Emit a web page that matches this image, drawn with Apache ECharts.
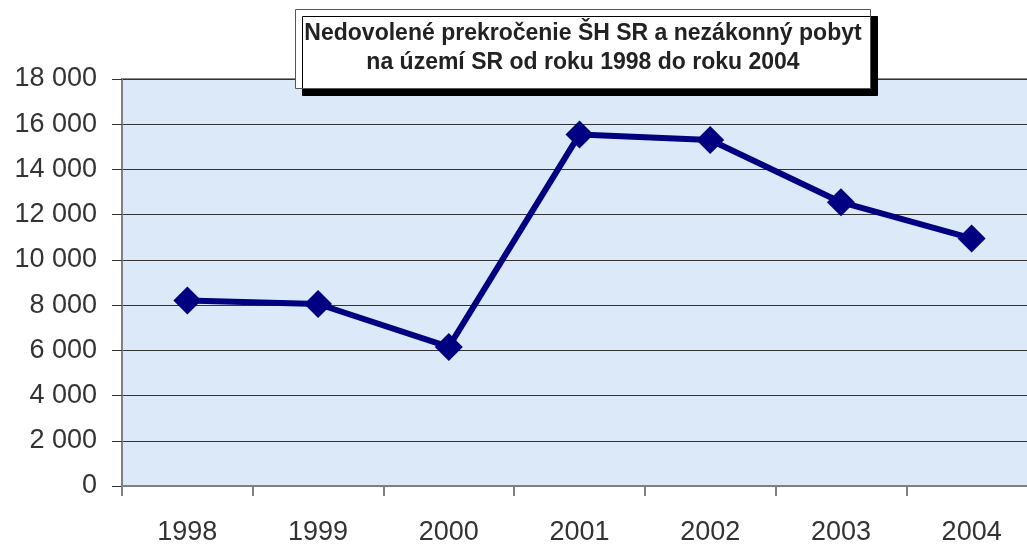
<!DOCTYPE html>
<html>
<head>
<meta charset="utf-8">
<script src="https://cdn.jsdelivr.net/npm/echarts@6/dist/echarts.min.js"></script>
<style>
  html, body { margin: 0; padding: 0; background: #fff; }
  #chart { width: 1027px; height: 544px; }
</style>
</head>
<body>
<div id="chart"></div>
<script>
// roky a pocty
var years = ['1998', '1999', '2000', '2001', '2002', '2003', '2004'];
var counts = [8200, 8050, 6150, 15550, 15300, 12550, 10950];
var yTicks = [0, 2000, 4000, 6000, 8000, 10000, 12000, 14000, 16000, 18000];

function spaced(x) {
    return x.toString().replace(/\B(?=(\d{3})+(?!\d))/g, ' ');
}

var myChart = echarts.init(document.getElementById('chart'));

var option = {
    animation: false,
    title: {
        text: 'Nedovolené prekročenie ŠH SR a nezákonný pobyt\nna území SR od roku 1998 do roku 2004',
        left: 574,
        top: 9,
        textAlign: 'center',
        padding: [10, 9, 12, 9],
        backgroundColor: '#fff',
        borderColor: '#555',
        borderWidth: 1,
        shadowColor: '#000',
        shadowOffsetX: 7,
        shadowOffsetY: 7,
        shadowBlur: 0,
        textStyle: {
            fontFamily: 'Liberation Sans',
            fontWeight: 'bold',
            fontSize: 23,
            lineHeight: 29,
            color: '#222'
        },
        z: 10
    },
    grid: {
        left: 122,
        right: -10,
        top: 79,
        bottom: 58,
        outerBoundsMode: 'none',
        show: true,
        backgroundColor: '#dbe9f8',
        borderColor: '#8a8a8a',
        borderWidth: 2
    },
    xAxis: {
        type: 'category',
        data: years,
        boundaryGap: true,
        axisLine: { lineStyle: { color: '#808080', width: 2 } },
        axisTick: { show: true, length: 10, lineStyle: { color: '#808080', width: 2 } },
        axisLabel: {
            margin: 33,
            fontFamily: 'Liberation Sans',
            fontSize: 27,
            color: '#333'
        }
    },
    yAxis: {
        type: 'value',
        min: 0,
        max: 18000,
        interval: 2000,
        axisLine: { show: true, lineStyle: { color: '#808080', width: 2 } },
        axisTick: { show: true, length: 10, lineStyle: { color: '#333' } },
        splitLine: { lineStyle: { color: '#333', width: 1 } },
        axisLabel: {
            margin: 25,
            fontFamily: 'Liberation Sans',
            fontSize: 27,
            color: '#333',
            formatter: function (v) {
                return yTicks.indexOf(v) >= 0 ? spaced(v) : '';
            }
        }
    },
    series: [
        {
            name: 'Počet',
            type: 'line',
            data: counts,
            symbol: 'diamond',
            symbolSize: 28,
            lineStyle: { color: '#000080', width: 6 },
            itemStyle: { color: '#000080' },
            z: 5
        }
    ]
};
myChart.setOption(option);
</script>
</body>
</html>
